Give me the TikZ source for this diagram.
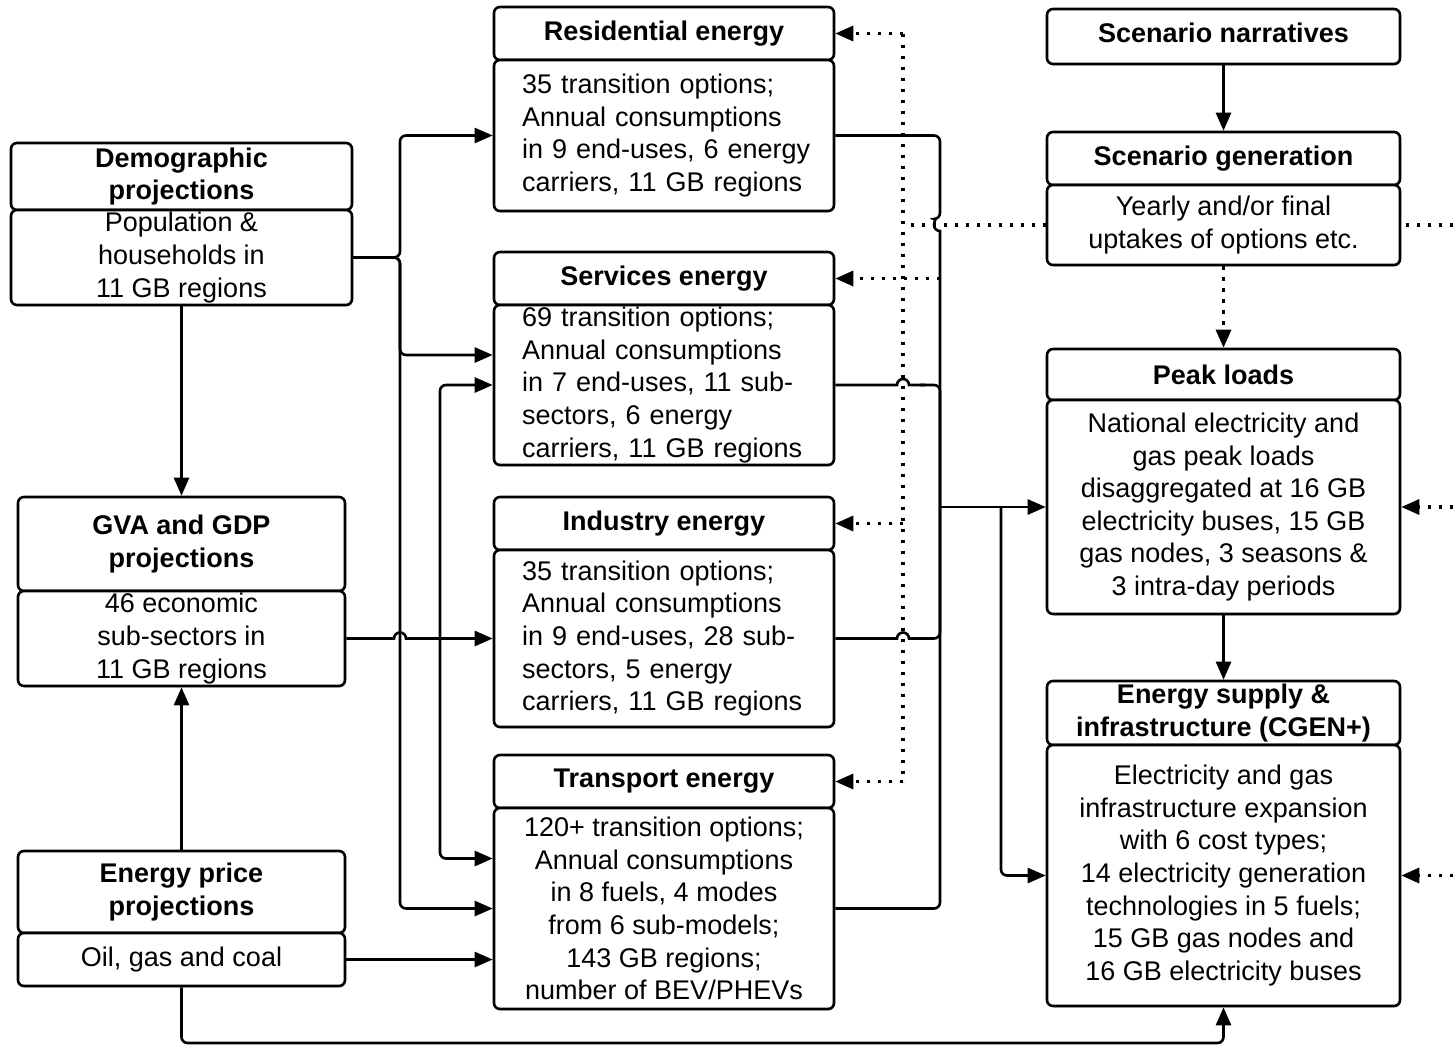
\documentclass[tikz,border=0pt]{standalone}
\usepackage{fontspec}
\setmainfont{Liberation Sans}
\usetikzlibrary{arrows.meta,calc,shadows}
\begin{document}
\begin{tikzpicture}[x=1pt,y=-1pt,
  box/.style={draw, line width=2.6pt, rounded corners=6pt, fill=white, inner sep=0pt, align=center,
    font=\fontsize{27}{32.6}\selectfont,
    drop shadow={shadow xshift=1pt, shadow yshift=-1.5pt, opacity=0.3}},
  ttl/.style={box, font=\fontsize{27}{32.2}\selectfont\bfseries},
  lbox/.style={box, align=left, text width=284pt, inner xsep=28pt},
  conn/.style={line width=2.6pt, rounded corners=6pt},
  arr/.style={conn, -{Triangle[length=18pt,width=15pt]}},
  dot/.style={line width=3.2pt, dash pattern=on 3.2pt off 7.8pt},
  dotarr/.style={dot, -{Triangle[length=18pt,width=15pt]}},
]
\useasboundingbox (0,0) rectangle (1453,1045);

% ---------- left column ----------
\node[ttl, minimum width=341pt, minimum height=67pt] (demtitle) at (181.5,176.5) {Demographic\\projections};
\node[box, minimum width=341pt, minimum height=95pt] (dembody) at (181.5,257.5) {Population \&\\households in\\11 GB regions};
\node[ttl, minimum width=327pt, minimum height=94pt] (gvatitle) at (181.5,544) {GVA and GDP\\projections};
\node[box, minimum width=327pt, minimum height=95pt] (gvabody) at (181.5,638.5) {46 economic\\sub-sectors in\\11 GB regions};
\node[ttl, minimum width=327pt, minimum height=82pt] (pricetitle) at (181.5,892) {Energy price\\projections};
\node[box, minimum width=327pt, minimum height=53pt] (pricebody) at (181.5,959.5) {Oil, gas and coal};

% ---------- middle column ----------
\node[ttl, minimum width=340pt, minimum height=53pt] (restitle) at (664,33.5) {Residential energy};
\node[lbox, minimum width=340pt, minimum height=151pt] (resbody) at (664,135.5) {\mbox{35 transition options;}\\\mbox{Annual consumptions}\\\mbox{in 9 end-uses, 6 energy}\\\mbox{carriers, 11 GB regions}};
\node[ttl, minimum width=340pt, minimum height=53pt] (servtitle) at (664,278.5) {Services energy};
\node[lbox, minimum width=340pt, minimum height=160pt] (servbody) at (664,385) {\mbox{69 transition options;}\\\mbox{Annual consumptions}\\\mbox{in 7 end-uses, 11 sub-}\\\mbox{sectors, 6 energy}\\\mbox{carriers, 11 GB regions}};
\node[ttl, minimum width=340pt, minimum height=53pt] (indtitle) at (664,523.5) {Industry energy};
\node[lbox, minimum width=340pt, minimum height=177pt] (indbody) at (664,638.5) {\mbox{35 transition options;}\\\mbox{Annual consumptions}\\\mbox{in 9 end-uses, 28 sub-}\\\mbox{sectors, 5 energy}\\\mbox{carriers, 11 GB regions}};
\node[ttl, minimum width=340pt, minimum height=53pt] (transtitle) at (664,781.5) {Transport energy};
\node[box, minimum width=340pt, minimum height=201pt] (transbody) at (664,908.5) {120+ transition options;\\Annual consumptions\\in 8 fuels, 4 modes\\from 6 sub-models;\\143 GB regions;\\number of BEV/PHEVs};

% ---------- right column ----------
\node[ttl, minimum width=353pt, minimum height=55pt] (narr) at (1223.5,36.5) {\raisebox{3.5pt}[\height][\depth]{Scenario narratives}};
\node[ttl, minimum width=353pt, minimum height=53pt] (sgtitle) at (1223.5,158.5) {Scenario generation};
\node[box, minimum width=353pt, minimum height=80pt] (sgbody) at (1223.5,225) {Yearly and/or final\\uptakes of options etc.};
\node[ttl, minimum width=353pt, minimum height=51pt] (peaktitle) at (1223.5,374.5) {Peak loads};
\node[box, minimum width=353pt, minimum height=214pt] (peakbody) at (1223.5,507) {National electricity and\\gas peak loads\\disaggregated at 16 GB\\electricity buses, 15 GB\\gas nodes, 3 seasons \&\\3 intra-day periods};
\node[ttl, minimum width=353pt, minimum height=64pt] (suptitle) at (1223.5,713) {Energy supply \&\\infrastructure (CGEN+)};
\node[box, minimum width=353pt, minimum height=261pt] (supbody) at (1223.5,875.5) {Electricity and gas\\infrastructure expansion\\with 6 cost types;\\14 electricity generation\\technologies in 5 fuels;\\15 GB gas nodes and\\16 GB electricity buses};

% ---------- helper coordinates ----------
\coordinate (lx) at (400,257.5);
\coordinate (gx) at (440,638.5);
\coordinate (bus) at (940,507);
\coordinate (bx) at (1001,507);
\coordinate (dvx) at (903,225);
\coordinate (redge) at (1453,0);
\coordinate (bot) at (0,1043);

% ---------- solid connectors ----------
\draw[arr] (dembody.south) -- (gvatitle.north);
\draw[arr] (pricetitle.north) -- (gvabody.south);
\draw[arr] (narr.south) -- (sgtitle.north);
\draw[arr] (peakbody.south) -- (suptitle.north);

\draw[arr] (dembody.east) -- (lx) |- (resbody.west);
\draw[arr] (dembody.east) -- (lx) |- ($(servbody.west)+(0,-30)$);
\draw[arr] (dembody.east) -- (lx) -- (lx |- transbody.west) -- (transbody.west);

\draw[arr, sharp corners] (gvabody.east) -- (394,638.5) arc(180:0:6pt) -- (indbody.west);
\draw[arr] (gx) |- (servbody.west);
\draw[arr] (gx) |- ($(transbody.west)+(0,-50)$);

\draw[arr] (pricebody.east) -- (pricebody.east -| transbody.west);
\draw[arr] (pricebody.south) -- (pricebody.south |- bot) -| (supbody.south);

\draw[conn] (resbody.east) -- (bus |- resbody.east) -- (940,219) [sharp corners] arc(90:270:6pt) -- (bus);
\draw[conn, sharp corners] (servbody.east) -- (897,385) arc(180:0:6pt) -- (925,385);
\draw[conn] (920,385) -- (940,385) -- (bus);
\draw[conn, sharp corners] (indbody.east) -- (897,638.5) arc(180:0:6pt) -- (925,638.5);
\draw[conn] (920,638.5) -- (940,638.5) -- (bus);
\draw[conn] (transbody.east) -- (bus |- transbody.east) -- (bus);
\draw[arr] (bus) -- (peakbody.west);
\draw[arr] (bx) |- (supbody.west);

% ---------- dotted connectors ----------
\draw[dotarr] (sgbody.south) -- (peaktitle.north);
\draw[dot] (sgbody.west) -- (dvx);
\draw[dot] (dvx |- restitle.east) -- (dvx |- transtitle.east);
\draw[dotarr] (dvx |- restitle.east) -- (restitle.east);
\draw[dotarr] (bus |- servtitle.east) -- (servtitle.east);
\draw[dotarr] (dvx |- indtitle.east) -- (indtitle.east);
\draw[dotarr] (dvx |- transtitle.east) -- (transtitle.east);
\draw[dot] (redge |- sgbody.east) -- (sgbody.east);
\draw[dotarr] (redge |- peakbody.east) -- (peakbody.east);
\draw[dotarr] (redge |- supbody.east) -- (supbody.east);
\end{tikzpicture}
\end{document}
